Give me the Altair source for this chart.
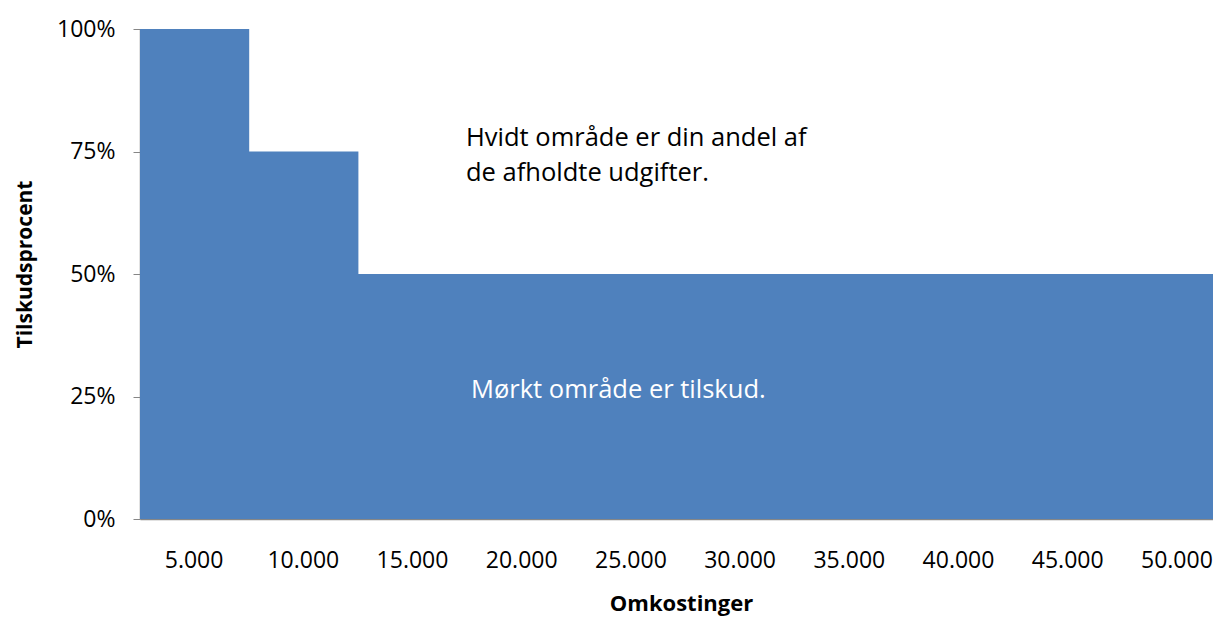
import altair as alt
import pandas as pd

# categories (Omkostinger) and subsidy share per category
categories = [5000, 10000, 15000, 20000, 25000, 30000, 35000, 40000, 45000, 50000]
shares = [1.00, 0.75, 0.50, 0.50, 0.50, 0.50, 0.50, 0.50, 0.50, 0.50]
y_ticks = [0, 0.25, 0.5, 0.75, 1.0]

half = 2500
xs = [c - half for c in categories] + [categories[-1] + half]
ys = shares + [shares[-1]]
df = pd.DataFrame({"x": xs, "y": ys})

FONT = "Open Sans"
W, H = 1073, 490

base = alt.Chart(df)

area = base.mark_area(interpolate="step-after", color="#4F81BD", clip=True).encode(
    x=alt.X(
        "x:Q",
        scale=alt.Scale(domain=[2500, 51630], nice=False, zero=False),
        axis=alt.Axis(
            values=categories,
            labelExpr="replace(format(datum.value, ','), ',', '.')",
            ticks=False,
            grid=False,
            domainColor="#868686",
            domainWidth=1.5,
            labelFont=FONT,
            labelFontSize=23,
            labelColor="#000000",
            labelPadding=30,
            labelOffset=-1,
            title="Omkostinger",
            titleFont=FONT,
            titleFontSize=22,
            titleFontWeight="bold",
            titleColor="#000000",
            titleBaseline="alphabetic",
            titleAnchor="middle",
            titleX=541,
            titleY=91,
        ),
    ),
    y=alt.Y(
        "y:Q",
        scale=alt.Scale(domain=[0, 1], nice=False),
        axis=alt.Axis(
            values=y_ticks,
            format="%",
            grid=False,
            tickSize=7,
            tickColor="#868686",
            domainColor="#868686",
            domainWidth=1.5,
            labelFont=FONT,
            labelFontSize=23,
            labelColor="#000000",
            labelPadding=18,
            title="Tilskudsprocent",
            titleFont=FONT,
            titleFontSize=21,
            titleFontWeight="bold",
            titleColor="#000000",
            titleAngle=270,
            titleBaseline="alphabetic",
            titleAlign="center",
            titleX=-109,
            titleY=235,
        ),
    ),
)

note_white = alt.Chart(pd.DataFrame({"t": [["Hvidt område er din andel af", "de afholdte udgifter."]]})).mark_text(
    align="left", baseline="alphabetic", font=FONT, fontSize=25.5, color="#000000", lineHeight=35
).encode(x=alt.value(326), y=alt.value(117), text="t")

note_dark = alt.Chart(pd.DataFrame({"t": ["Mørkt område er tilskud."]})).mark_text(
    align="left", baseline="alphabetic", font=FONT, fontSize=25.5, color="#FFFFFF"
).encode(x=alt.value(331), y=alt.value(369), text="t:N")

chart = (
    alt.layer(area, note_white, note_dark)
    .properties(
        width=W,
        height=H,
        autosize=alt.AutoSizeParams(type="none"),
        padding={"left": 132, "top": 21, "right": 0, "bottom": 97},
        background="white",
    )
    .configure_view(stroke=None)
)

chart.save("out.html", embed_options={"renderer": "svg", "actions": False})
